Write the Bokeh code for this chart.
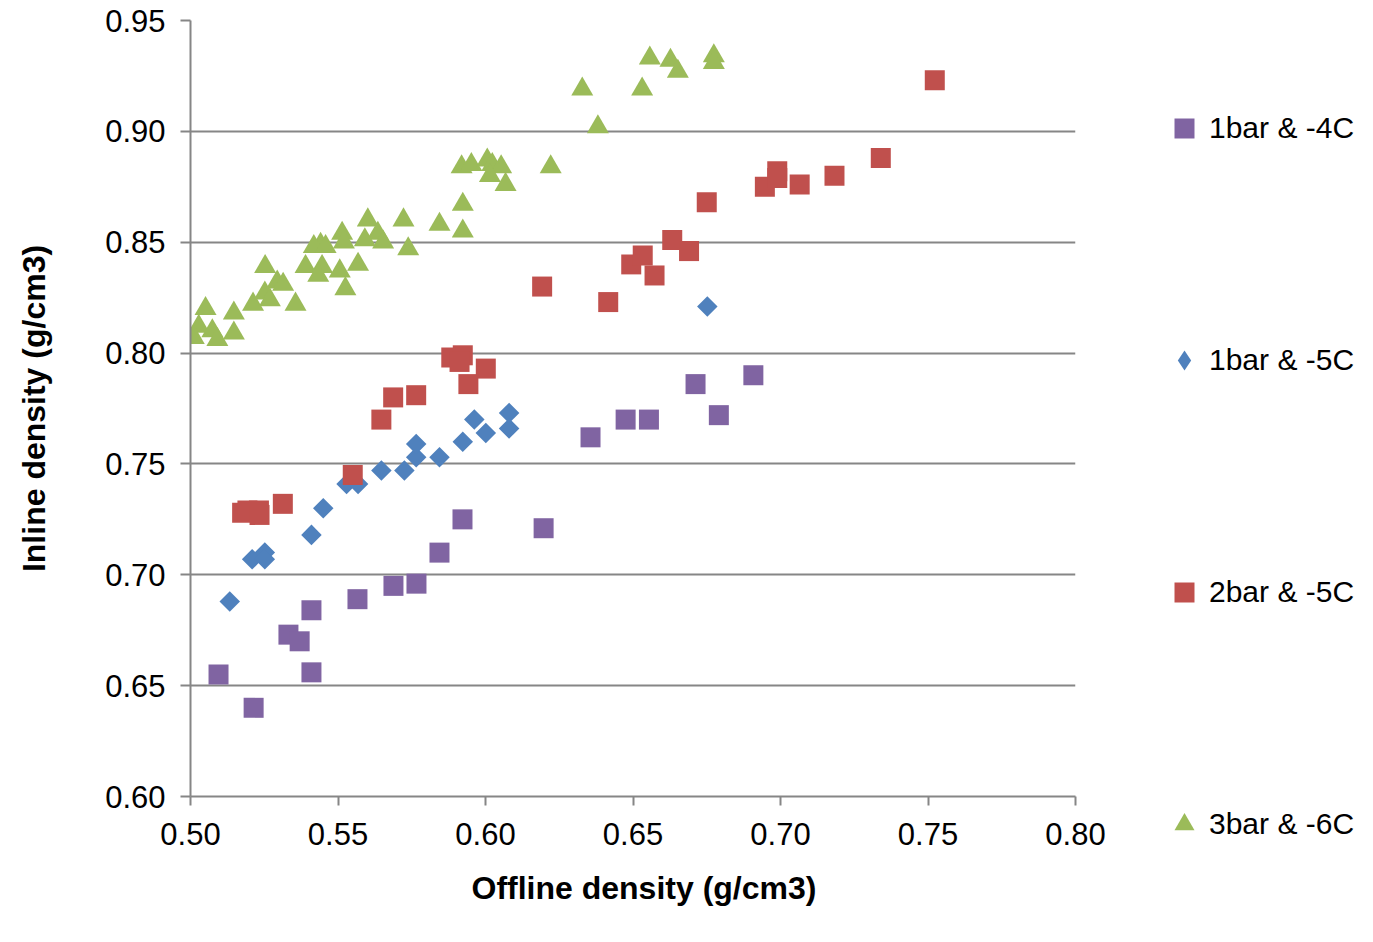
import math
from bokeh.plotting import figure
from bokeh.layouts import row, column
from bokeh.models import Range1d, FixedTicker, Legend, LegendItem, PrintfTickFormatter, Title
from bokeh.embed import file_html
from bokeh.resources import INLINE

# ---- data ----
s1_name = "1bar & -4C"
s1_x = [0.5095, 0.5214, 0.5332, 0.5370, 0.5410, 0.5410, 0.5566, 0.5688, 0.5766,
        0.5844, 0.5922, 0.6197, 0.6356, 0.6475, 0.6554, 0.6712, 0.6791, 0.6908]
s1_y = [0.655, 0.640, 0.673, 0.670, 0.684, 0.656, 0.689, 0.695, 0.696,
        0.710, 0.725, 0.721, 0.762, 0.770, 0.770, 0.786, 0.772, 0.790]

s2_name = "1bar & -5C"
s2_x = [0.5133, 0.5209, 0.5252, 0.5252, 0.5410, 0.5450, 0.5529, 0.5568, 0.5647,
        0.5725, 0.5765, 0.5765, 0.5844, 0.5923, 0.5962, 0.6001, 0.6080, 0.6080, 0.6752]
s2_y = [0.688, 0.707, 0.710, 0.707, 0.718, 0.730, 0.741, 0.741, 0.747,
        0.747, 0.753, 0.759, 0.753, 0.760, 0.770, 0.764, 0.773, 0.766, 0.821]

s3_name = "2bar & -5C"
s3_x = [0.5175, 0.5193, 0.5232, 0.5234, 0.5313, 0.5550, 0.5647, 0.5687, 0.5765,
        0.5884, 0.5923, 0.5912, 0.6001, 0.5942, 0.6192, 0.6416, 0.6494, 0.6533,
        0.6573, 0.6633, 0.6690, 0.6750, 0.6947, 0.6989, 0.6989, 0.7065, 0.7183,
        0.7340, 0.7523]
s3_y = [0.728, 0.729, 0.729, 0.727, 0.732, 0.745, 0.770, 0.780, 0.781,
        0.798, 0.799, 0.796, 0.793, 0.786, 0.830, 0.823, 0.840, 0.844,
        0.835, 0.851, 0.846, 0.868, 0.875, 0.882, 0.879, 0.876, 0.880,
        0.888, 0.923]

s4_name = "3bar & -6C"
s4_x = [0.5919, 0.5952, 0.6006, 0.6023, 0.6053, 0.6015, 0.6068, 0.6221, 0.5923,
        0.5923, 0.5722, 0.5844, 0.5738, 0.5601, 0.5635, 0.5591, 0.5653, 0.5514,
        0.5520, 0.5441, 0.5418, 0.5458, 0.5390, 0.5446, 0.5433, 0.5506, 0.5568,
        0.5525, 0.5356, 0.5253, 0.5294, 0.5314, 0.5252, 0.5269, 0.5212, 0.5147,
        0.5147, 0.5051, 0.5028, 0.5011, 0.5074, 0.5091, 0.6328, 0.6381, 0.6557,
        0.6531, 0.6627, 0.6652, 0.6774, 0.6774]
s4_y = [0.884, 0.885, 0.887, 0.885, 0.884, 0.880, 0.876, 0.884, 0.867,
        0.855, 0.860, 0.858, 0.847, 0.860, 0.854, 0.851, 0.850, 0.854,
        0.850, 0.849, 0.848, 0.848, 0.839, 0.839, 0.835, 0.837, 0.840,
        0.829, 0.822, 0.839, 0.832, 0.831, 0.827, 0.824, 0.822, 0.818,
        0.809, 0.820, 0.812, 0.807, 0.810, 0.806, 0.919, 0.902, 0.933,
        0.919, 0.932, 0.927, 0.934, 0.931]

x_ticks = [0.50, 0.55, 0.60, 0.65, 0.70, 0.75, 0.80]
y_ticks = [0.60, 0.65, 0.70, 0.75, 0.80, 0.85, 0.90, 0.95]
x_title = "Offline density (g/cm3)"
y_title = "Inline density (g/cm3)"

PURPLE = "#8064A2"
BLUE = "#4F81BD"
RED = "#C0504D"
GREEN = "#9BBB59"
GRAY = "#868686"
FONT = "Liberation Sans"

H = 926
LEFT, TOP, FRAME_W, FRAME_H = 190, 20, 885, 776
MAIN_W = 1110
LEG_W = 1357 - MAIN_W

p = figure(width=MAIN_W, height=H, output_backend="svg", toolbar_location=None,
           x_range=Range1d(x_ticks[0], x_ticks[-1]), y_range=Range1d(y_ticks[0], y_ticks[-1]),
           min_border_left=LEFT, min_border_top=TOP,
           min_border_right=MAIN_W - LEFT - FRAME_W, min_border_bottom=H - TOP - FRAME_H)
p.outline_line_color = None
p.background_fill_color = "white"

p.scatter(s1_x, s1_y, marker="square", size=20, fill_color=PURPLE, line_color=None)
p.scatter(s2_x, s2_y, marker="square", size=14.5, angle=math.pi / 4,
          fill_color=BLUE, line_color=None)
p.scatter(s3_x, s3_y, marker="square", size=20, fill_color=RED, line_color=None)
p.scatter(s4_x, s4_y, marker="triangle", size=22, fill_color=GREEN, line_color=None)

# axes
for ax in (p.xaxis[0], p.yaxis[0]):
    ax.axis_line_color = GRAY
    ax.axis_line_width = 2
    ax.major_tick_line_color = GRAY
    ax.major_tick_line_width = 2
    ax.major_tick_in = 0
    ax.minor_tick_line_color = None
    ax.major_label_text_font = FONT
    ax.major_label_text_font_size = "31px"
    ax.major_label_text_color = "black"
    ax.axis_label_text_font = FONT
    ax.axis_label_text_font_size = "32px"
    ax.axis_label_text_font_style = "bold"
    ax.axis_label_text_color = "black"
    ax.formatter = PrintfTickFormatter(format="%.2f")

p.xaxis[0].ticker = FixedTicker(ticks=x_ticks)
p.yaxis[0].ticker = FixedTicker(ticks=y_ticks)
p.xaxis[0].major_tick_out = 9
p.yaxis[0].major_tick_out = 10
p.xaxis[0].major_label_standoff = 17
p.yaxis[0].major_label_standoff = 15
p.yaxis[0].axis_label = y_title
p.yaxis[0].axis_label_standoff = 50

p.xgrid.grid_line_color = None
p.ygrid.grid_line_color = GRAY
p.ygrid.grid_line_width = 2
p.ygrid.ticker = FixedTicker(ticks=y_ticks)

# x title below the axis, aligned like the reference
xt = Title(text=x_title, align="left", offset=281, standoff=40,
           text_font=FONT, text_font_size="32px", text_font_style="bold",
           text_color="black")
p.add_layout(xt, "below")

# ---- legend in a separate, axis-less panel to the right ----
lf = figure(width=LEG_W, height=H, output_backend="svg", toolbar_location=None,
            x_range=Range1d(0, 1), y_range=Range1d(0, 1),
            x_axis_type=None, y_axis_type=None,
            min_border_left=0, min_border_right=0, min_border_top=0, min_border_bottom=0)
lf.outline_line_color = None
lf.xgrid.grid_line_color = None
lf.ygrid.grid_line_color = None
nan = [float("nan")]
k1 = lf.scatter(nan, nan, marker="square", size=20, fill_color=PURPLE, line_color=None)
k2 = lf.scatter(nan, nan, marker="diamond", size=20, fill_color=BLUE, line_color=None)
k3 = lf.scatter(nan, nan, marker="square", size=20, fill_color=RED, line_color=None)
k4 = lf.scatter(nan, nan, marker="triangle", size=20, fill_color=GREEN, line_color=None)

GLYPH = 50
GLYPH_CX = 1184                    # page x of the legend keys
ITEM_CY = [125, 357, 590, 824]     # page y of the legend entries (reference)
legend = Legend(items=[LegendItem(label=s1_name, renderers=[k1]),
                       LegendItem(label=s2_name, renderers=[k2]),
                       LegendItem(label=s3_name, renderers=[k3]),
                       LegendItem(label=s4_name, renderers=[k4])],
                location=(GLYPH_CX - GLYPH // 2 - MAIN_W, H - (ITEM_CY[-1] + GLYPH // 2)),
                orientation="vertical",
                label_text_font=FONT, label_text_font_size="30px",
                label_text_color="black", label_height=32,
                glyph_height=GLYPH, glyph_width=GLYPH,
                spacing=(ITEM_CY[1] - ITEM_CY[0]) - GLYPH,
                padding=0, margin=0, label_standoff=0,
                border_line_color=None, background_fill_color=None,
                background_fill_alpha=0)
lf.add_layout(legend)

layout = row(p, column(lf, spacing=0), spacing=0)
open("out.html", "w").write(file_html(layout, INLINE))
